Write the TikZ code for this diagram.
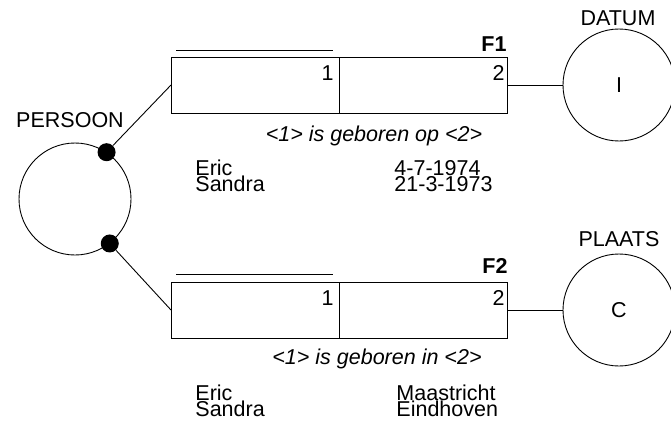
\documentclass[tikz,border=0pt]{standalone}
\usepackage{fontspec}
\setmainfont{Liberation Sans}
\begin{document}
\begin{tikzpicture}[x=1pt,y=-1pt, line width=0.9pt,
  txt/.style={font=\fontsize{21.5}{16}\selectfont, inner sep=0pt},
  row/.style={font=\fontsize{21.5}{16}\selectfont, inner sep=0pt, anchor=base west},
  btxt/.style={font=\fontsize{21.5}{16}\selectfont\bfseries, inner sep=0pt},
  itxt/.style={font=\fontsize{21.5}{16}\selectfont\itshape, inner sep=0pt},
  cell/.style={draw, minimum width=168pt, minimum height=56pt, inner sep=0pt, outer sep=0pt, anchor=north west},
  ent/.style={draw, circle, minimum size=112pt, inner sep=0pt, font=\fontsize{21.5}{16}\selectfont},
  blob/.style={circle, fill=black, minimum size=18pt, inner sep=0pt}]
\useasboundingbox (0,0) rectangle (671,428);

% PERSOON
\node[ent] (persoon) at (75,199) {};
\node[txt, anchor=base] (persoonl) at (70,127) {PERSOON};
\node[blob] (d1) at (persoon.56) {};
\node[blob] (d2) at (persoon.-52) {};

% F1
\node[cell] (f1a) at (171,57) {};
\node[cell] (f1b) at (f1a.north east) {};
\node[txt, anchor=base east] (f1n1) at (334,80) {1};
\node[txt, anchor=base east] (f1n2) at (505,80) {2};
\node[btxt, anchor=base east] (f1l) at (507,52) {F1};
\draw (176,50) -- (333,50);
\node[itxt, anchor=base] (s1) at (374,141) {<1> is geboren op <2>};

% DATUM
\node[ent] (datum) at (619,85) {I};
\node[txt, anchor=base] (datuml) at (618,26) {DATUM};

% F2
\node[cell] (f2a) at (171,282) {};
\node[cell] (f2b) at (f2a.north east) {};
\node[txt, anchor=base east] (f2n1) at (334,305) {1};
\node[txt, anchor=base east] (f2n2) at (505,305) {2};
\node[btxt, anchor=base east] (f2l) at (508,273) {F2};
\draw (176,274) -- (333,274);
\node[itxt, anchor=base] (s2) at (377,364) {<1> is geboren in <2>};

% PLAATS
\node[ent] (plaats) at (619,310) {C};
\node[txt, anchor=base] (plaatsl) at (619,246) {PLAATS};

% connectors
\draw (d1) -- (f1a.west);
\draw (d2) -- (f2a.west);
\draw (f1b.east) -- (datum.west);
\draw (f2b.east) -- (plaats.west);

% populations
\node[row] (p1a) at (195,175) {Eric};
\node[row] (p1b) at (195,191.5) {Sandra};
\node[row] (p1c) at (394,175) {4-7-1974};
\node[row] (p1d) at (394,191.5) {21-3-1973};
\node[row] (p2a) at (195,400) {Eric};
\node[row] (p2b) at (195,416.5) {Sandra};
\node[row] (p2c) at (396,400) {Maastricht};
\node[row] (p2d) at (396,416.5) {Eindhoven};
\end{tikzpicture}
\end{document}
